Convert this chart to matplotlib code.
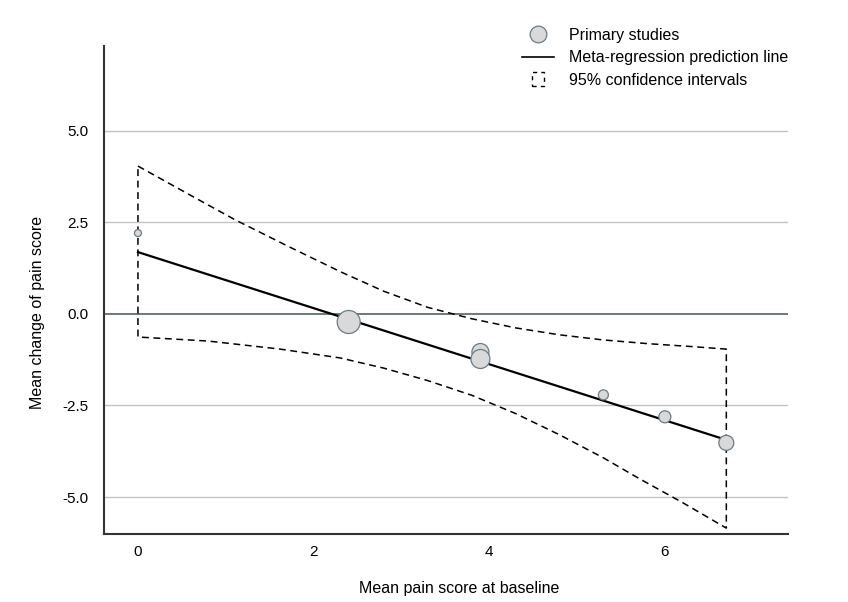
import matplotlib
matplotlib.use("Agg")
import matplotlib.pyplot as plt
from matplotlib.lines import Line2D
from matplotlib.patches import Patch, Rectangle
from matplotlib.legend_handler import HandlerPatch

plt.rcParams["font.family"] = ["Liberation Sans", "DejaVu Sans"]

# primary studies: baseline score, change, marker diameter (px)
study_x = [0.0, 2.4, 3.9, 3.9, 5.3, 6.0, 6.7]
study_y = [2.21, -0.22, -1.04, -1.23, -2.21, -2.81, -3.52]
study_size = [7, 23, 17, 19, 10, 12, 15]

# meta-regression prediction line
reg_x = [0.0, 6.7]
reg_y = [1.69, -3.44]

# 95% confidence band
ci_upper_x = [0.0, 0.6, 1.1, 1.7, 2.3, 2.8, 3.3, 3.8, 4.3, 4.8, 5.3, 5.8, 6.3, 6.7]
ci_upper_y = [4.04, 3.24, 2.58, 1.86, 1.16, 0.62, 0.18, -0.13, -0.38, -0.57, -0.71, -0.81, -0.89, -0.96]
ci_lower_x = [0.0, 0.8, 1.62, 2.3, 2.8, 3.3, 3.8, 4.3, 4.8, 5.3, 5.71, 6.2, 6.7]
ci_lower_y = [-0.63, -0.74, -0.96, -1.20, -1.48, -1.82, -2.22, -2.72, -3.30, -3.93, -4.50, -5.15, -5.85]

y_ticks = [-5.0, -2.5, 0.0, 2.5, 5.0]
x_ticks = [0, 2, 4, 6]


def small_box(legend, orig_handle, xdescent, ydescent, width, height, fontsize):
    """Dashed square legend handle, narrower than the default patch"""
    side = height * 1.25
    return Rectangle((width / 2 - side * 0.4 - xdescent, -ydescent - 0.15 * height), side * 0.8, side)


fig = plt.figure(figsize=(8.48, 6.02), dpi=100)
ax = fig.add_axes([0.1226, 0.113, 0.8064, 0.8106])

for yv in y_ticks:
    if yv == 0:
        ax.axhline(yv, color="#5f7070", lw=1.3, zorder=1)
    else:
        ax.axhline(yv, color="#c3c3c3", lw=1.0, zorder=1)

# confidence band as a closed dashed outline
band_x = ci_upper_x + ci_lower_x[::-1] + [ci_upper_x[0]]
band_y = ci_upper_y + ci_lower_y[::-1] + [ci_upper_y[0]]
ax.plot(band_x, band_y, color="black", lw=1.1, linestyle=(0, (4.5, 3)), zorder=2)

ax.plot(reg_x, reg_y, color="black", lw=1.6, zorder=3)

sizes = [(d * 0.72) ** 2 for d in study_size]
ax.scatter(study_x, study_y, s=sizes, facecolor="#d9d9d9", edgecolor="#6b7b86",
           linewidth=0.9, zorder=4)

ax.set_xlim(-0.387, 7.40)
ax.set_ylim(-6.01, 7.32)
ax.set_xticks(x_ticks)
ax.set_yticks(y_ticks)
ax.set_yticklabels([f"{v:.1f}" for v in y_ticks])
ax.tick_params(axis="both", length=0, labelsize=11, colors="black")
ax.tick_params(axis="y", pad=11)
ax.tick_params(axis="x", pad=8)

for side in ["top", "right"]:
    ax.spines[side].set_visible(False)
for side in ["left", "bottom"]:
    ax.spines[side].set_color("#333333")
    ax.spines[side].set_linewidth(1.5)

ax.set_xlabel("Mean pain score at baseline", fontsize=11.5)
ax.set_ylabel("Mean change of pain score", fontsize=11.5)
ax.xaxis.set_label_coords(0.52, -0.097)
ax.yaxis.set_label_coords(-0.086, 0.453)

handles = [
    Line2D([], [], marker="o", linestyle="none", markersize=12,
           markerfacecolor="#d9d9d9", markeredgecolor="#6b7b86", markeredgewidth=0.9),
    Line2D([], [], color="black", lw=1.2),
    Patch(facecolor="none", edgecolor="black", linestyle=(0, (3, 3)), linewidth=1.0),
]
labels = ["Primary studies", "Meta-regression prediction line", "95% confidence intervals"]
ax.legend(handles, labels, loc="upper left", bbox_to_anchor=(522 / 848, 1 - 28 / 602),
          bbox_transform=fig.transFigure, frameon=False, fontsize=11.5,
          borderpad=0, borderaxespad=0, handlelength=2.0, handletextpad=0.95,
          labelspacing=0.46, handler_map={Patch: HandlerPatch(patch_func=small_box)})

fig.savefig("out.png", dpi=100)
